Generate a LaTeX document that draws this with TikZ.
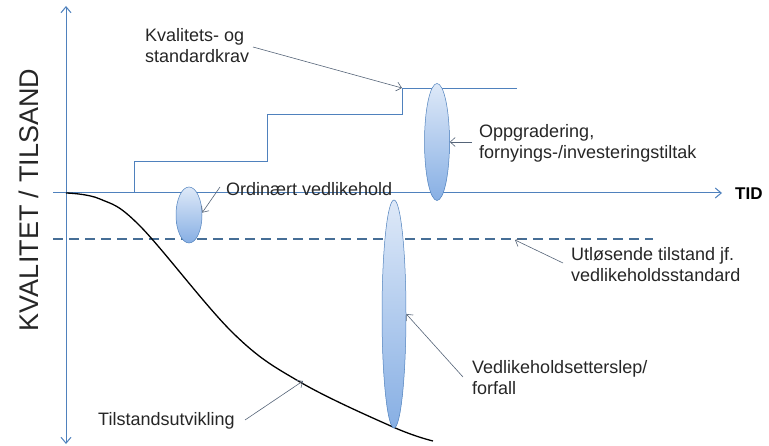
\documentclass[tikz,border=0pt]{standalone}
\usepackage{fontspec}
\setmainfont{Liberation Sans}
\usetikzlibrary{arrows.meta,shapes.geometric}
\definecolor{axisblue}{RGB}{79,129,189}
\definecolor{leader}{RGB}{85,100,120}
\definecolor{dashc}{RGB}{70,110,150}
\definecolor{elltop}{RGB}{222,233,248}
\definecolor{ellbot}{RGB}{135,175,228}
\begin{document}
\begin{tikzpicture}[x=1pt,y=-1pt,
  lbl/.style={font=\fontsize{18}{21}\selectfont, inner sep=0pt, align=left, text=black!85},
  leadarrow/.style={draw=leader, line width=0.6pt, -{Straight Barb[length=5pt,width=9pt]}},
  axisline/.style={draw=axisblue, line width=1pt},
  stdline/.style={draw=axisblue, line width=0.8pt},
  blob/.style={ellipse, draw=axisblue, line width=0.5pt, top color=elltop, bottom color=ellbot, inner sep=0pt}]
\useasboundingbox (0,0) rectangle (769,446);
% axes
\coordinate (ytop) at (66,6);
\coordinate (ybot) at (66,444);
\coordinate (xl) at (53,193);
\coordinate (xr) at (722,193);
\draw[axisline, {Straight Barb[length=6pt,width=10pt]}-{Straight Barb[length=6pt,width=10pt]}] (ybot) -- (ytop);
\draw[axisline, -{Straight Barb[length=6pt,width=10pt]}] (xl) -- (xr);
\node[font=\bfseries\fontsize{17}{20}\selectfont, anchor=base west, inner sep=0pt] (tid) at (735,200) {TID};
\node[font=\fontsize{27}{30}\selectfont, rotate=90, inner sep=0pt, text=black!85] (ylab) at (29,200) {KVALITET / TILSAND};
% dashed threshold
\coordinate (dl) at (53,239);
\coordinate (dr) at (653,239);
\draw[draw=dashc, line width=1.2pt, dash pattern=on 10pt off 6pt] (dl) -- (dr);
% standard step line
\coordinate (s0) at (134,193);
\coordinate (s1) at (134,161);
\coordinate (s2) at (267,161);
\coordinate (s3) at (267,114);
\coordinate (s4) at (402,114);
\coordinate (s5) at (402,88);
\coordinate (s6) at (517,88);
\draw[stdline] (s0) -- (s1) -- (s2) -- (s3) -- (s4) -- (s5) -- (s6);
% condition curve
\draw[line width=1.3pt, black] plot[smooth, tension=0.6] coordinates {(66,193) (100,199) (140,226) (233,333) (300,382) (393,427) (433,441)};
\coordinate (curvept) at (303,381);
% ellipses
\node[blob, minimum width=26pt, minimum height=56pt] (e1) at (189,215) {};
\node[blob, minimum width=25pt, minimum height=117pt] (e2) at (437,142) {};
\node[blob, minimum width=24pt, minimum height=228pt] (e3) at (394,314) {};
% labels (base anchor = last line baseline)
\node[lbl, anchor=base west] (kval) at (145,63) {Kvalitets- og\\standardkrav};
\node[lbl, anchor=base west] (ord) at (226,196) {Ordinært vedlikehold};
\node[lbl, anchor=base west] (opp) at (479,159) {Oppgradering,\\fornyings-/investeringstiltak};
\node[lbl, anchor=base west] (utl) at (571,282) {Utløsende tilstand jf.\\vedlikeholdsstandard};
\node[lbl, anchor=base west] (ved) at (472,395) {Vedlikeholdsetterslep/\\forfall};
\node[lbl, anchor=base west] (til) at (98,425) {Tilstandsutvikling};
% leader start points
\coordinate (kvA) at (253,47);
\coordinate (ordA) at (220,187);
\coordinate (oppA) at (472,142);
\coordinate (utlA) at (563,263);
\coordinate (utlB) at (515,240);
\coordinate (vedA) at (463,377);
\coordinate (tilA) at (245,420);
\draw[leadarrow] (kvA) -- (s5);
\draw[leadarrow] (ordA) -- (e1.10);
\draw[leadarrow] (oppA) -- (e2.east);
\draw[leadarrow] (utlA) -- (utlB);
\draw[leadarrow] (vedA) -- (e3.east);
\draw[leadarrow] (tilA) -- (curvept);
\end{tikzpicture}
\end{document}
